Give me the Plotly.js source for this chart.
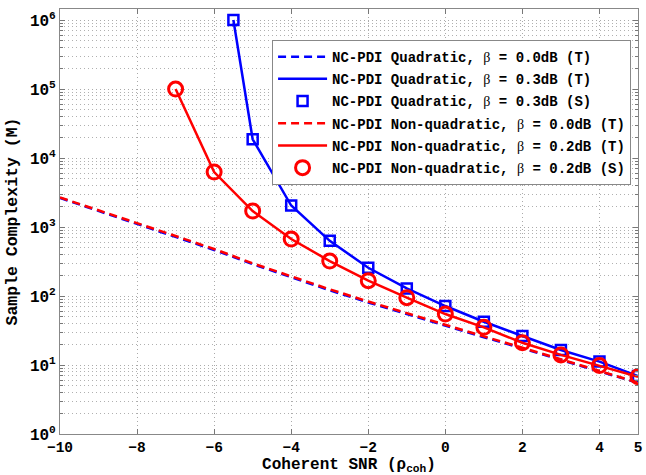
<!DOCTYPE html>
<html>
<head>
<meta charset="utf-8">
<script src="https://cdn.plot.ly/plotly-3.0.1.min.js"></script>
<style>
html,body{margin:0;padding:0;background:#fff;}
#chart{width:646px;height:475px;}
</style>
</head>
<body>
<div id="chart"></div>
<script>
// ---- data ----
const snrDense = [-10,-9,-8,-7,-6,-5,-4,-3,-2,-1,0,1,2,3,4,5];
const quadB0 = [2640,1720,1120,720,465,290,187,121,80.5,54.5,37,25.3,17.4,11.8,8.0,5.5];
const nonQuadB0 = [2680,1760,1155,741,480,298,193,125,83.2,56.2,38.0,26.0,17.8,12.0,8.13,5.56];

const snrQuad = [-5.5,-5,-4,-3,-2,-1,0,1,2,3,4,5];
const quadB03T = [1000000,18700,2050,630,257,129,71.6,42.4,26.3,16.5,11.2,6.9];
const quadB03S = [1000000,18700,2050,630,257,129,71.6,42.4,26.3,16.5,11.2,6.9];

const snrNonQuad = [-7,-6,-5,-4,-3,-2,-1,0,1,2,3,4,5];
const nonQuadB02T = [100000,6270,1706,670,321,167,94.5,54.8,35.2,21,14.0,9.8,6.77];
const nonQuadB02S = [100000,6270,1706,670,321,167,94.5,54.8,35.2,21,14.0,9.8,6.77];

const xTicks = [-10,-8,-6,-4,-2,0,2,4,5];
const yTicks = [1,10,100,1000,10000,100000,1000000];
const yTickText = ['10<sup>0</sup>','10<sup>1</sup>','10<sup>2</sup>','10<sup>3</sup>','10<sup>4</sup>','10<sup>5</sup>','10<sup>6</sup>'];
const legendNames = [
  'NC-PDI Quadratic, β = 0.0dB (T)',
  'NC-PDI Quadratic, β = 0.3dB (T)',
  'NC-PDI Quadratic, β = 0.3dB (S)',
  'NC-PDI Non-quadratic, β = 0.0dB (T)',
  'NC-PDI Non-quadratic, β = 0.2dB (T)',
  'NC-PDI Non-quadratic, β = 0.2dB (S)'
];

const BLUE = '#0000ff', RED = '#ff0000';
const mono = 'Liberation Mono, Courier New, monospace';
const beta = s => s.replace('β', '<span style="font-family:Liberation Serif;font-weight:normal">β</span>');

const traces = [
  {x: snrDense, y: quadB0, mode: 'lines', name: beta(legendNames[0]), legendgroup: 'g0',
   line: {color: BLUE, width: 2.5, dash: '8px,5px'}},
  {x: snrQuad, y: quadB03T, mode: 'lines', name: beta(legendNames[1]), legendgroup: 'g1',
   line: {color: BLUE, width: 2.5}},
  {x: snrQuad, y: quadB03S, mode: 'markers', name: beta(legendNames[2]), legendgroup: 'g2',
   marker: {symbol: 'square-open', size: 10, color: BLUE, line: {width: 2.5, color: BLUE}}},
  {x: snrDense, y: nonQuadB0, mode: 'lines', name: beta(legendNames[3]), legendgroup: 'g3',
   line: {color: RED, width: 2.5, dash: '8px,5px'}},
  {x: snrNonQuad, y: nonQuadB02T, mode: 'lines', name: beta(legendNames[4]), legendgroup: 'g4',
   line: {color: RED, width: 2.5}},
  {x: snrNonQuad, y: nonQuadB02S, mode: 'markers', name: beta(legendNames[5]), legendgroup: 'g5',
   marker: {symbol: 'circle-open', size: 14, color: RED, line: {width: 3, color: RED}}}
];

const gridDash = '1px,3px';

const layout = {
  width: 646, height: 475,
  margin: {l: 60, r: 8, t: 9, b: 41},
  paper_bgcolor: '#fff', plot_bgcolor: '#fff',
  font: {family: mono, size: 13, color: '#000', weight: 'bold'},
  showlegend: true,
  legend: {
    x: 0.988, xanchor: 'right', y: 0.927, yanchor: 'top',
    bgcolor: '#fff', bordercolor: '#888', borderwidth: 1,
    font: {family: mono, size: 14, color: '#000', weight: 'bold'},
    traceorder: 'grouped', tracegroupgap: 1, itemwidth: 49
  },
  xaxis: {
    range: [-10, 5],
    tickmode: 'array', tickvals: xTicks, ticktext: xTicks.map(v => v < 0 ? '−' + Math.abs(v) : String(v)),
    ticks: 'inside', ticklen: 5, tickcolor: '#777',
    showline: true, linecolor: '#888', linewidth: 1, mirror: 'ticks',
    showgrid: true, gridcolor: '#aaaaaa', griddash: gridDash, gridwidth: 1,
    zeroline: false,
    tickfont: {family: mono, size: 14.5, color: '#000', weight: 'bold'},
    title: {text: 'Coherent SNR (ρ<sub>coh</sub>)', standoff: 1,
            font: {family: mono, size: 16, color: '#000', weight: 'bold'}}
  },
  yaxis: {
    type: 'log', range: [0, 6.16],
    tickmode: 'array', tickvals: yTicks, ticktext: yTickText,
    ticks: 'inside', ticklen: 5, tickcolor: '#777',
    showline: true, linecolor: '#888', linewidth: 1, mirror: 'ticks',
    showgrid: true, gridcolor: '#aaaaaa', griddash: gridDash, gridwidth: 1,
    zeroline: false,
    minor: {dtick: 'D1', ticks: 'inside', ticklen: 3, tickcolor: '#777',
            showgrid: true, gridcolor: '#b0b0b0', griddash: gridDash, gridwidth: 1},
    tickfont: {family: mono, size: 16, color: '#000', weight: 'bold'},
    title: {text: 'Sample Complexity (M)', standoff: 8,
            font: {family: mono, size: 16.5, color: '#000', weight: 'bold'}}
  }
};

Plotly.newPlot('chart', traces, layout, {displayModeBar: false, staticPlot: true});
</script>
</body>
</html>
